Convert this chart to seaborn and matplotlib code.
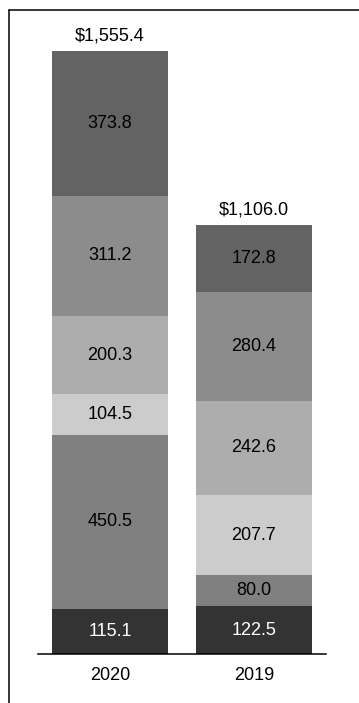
import matplotlib
matplotlib.use("Agg")
import matplotlib.pyplot as plt
from matplotlib.lines import Line2D
import seaborn as sns
import pandas as pd

# Revenue components by year (stacked from bottom to top)
years = ["2020", "2019"]
seg_bottom = [115.1, 122.5]
seg_2 = [450.5, 80.0]
seg_3 = [104.5, 207.7]
seg_4 = [200.3, 242.6]
seg_5 = [311.2, 280.4]
seg_top = [373.8, 172.8]
totals = [1555.4, 1106.0]

segments = [seg_bottom, seg_2, seg_3, seg_4, seg_5, seg_top]
colors = ["#333333", "#808080", "#cccccc", "#adadad", "#8c8c8c", "#636363"]
text_colors = ["white", "black", "black", "black", "black", "black"]

sns.set_style("white")
plt.rcParams["font.family"] = ["Liberation Sans", "DejaVu Sans"]

W, H = 359, 703
fig = plt.figure(figsize=(W / 100, H / 100), dpi=100)
ax_left, ax_right, ax_base, ax_top = 38, 326, 654, 30
ax = fig.add_axes([ax_left / W, (H - ax_base) / H,
                   (ax_right - ax_left) / W, (ax_base - ax_top) / H])

px_per_unit = 0.388
ymax = (ax_base - ax_top) / px_per_unit

bottoms = [0.0] * len(years)
for vals, col, tcol in zip(segments, colors, text_colors):
    df = pd.DataFrame({"year": years, "value": vals})
    sns.barplot(data=df, x="year", y="value", order=years, color=col,
                width=0.8, bottom=bottoms, saturation=1, ax=ax,
                edgecolor="none", linewidth=0)
    for i, (v, b) in enumerate(zip(vals, bottoms)):
        ax.text(i, b + v / 2, f"{v:.1f}", ha="center", va="center",
                fontsize=13, color=tcol)
    bottoms = [b + v for b, v in zip(bottoms, vals)]

for i, t in enumerate(totals):
    ax.annotate(f"${t:,.1f}", (i, t), xytext=(0, 7.5),
                textcoords="offset points", ha="center", va="baseline",
                fontsize=13, color="black")

ax.set_xlim(-0.5, 1.5)
ax.set_ylim(0, ymax)
ax.set_xlabel("")
ax.set_ylabel("")
ax.set_yticks([])
ax.tick_params(axis="x", length=0, pad=9.5, labelsize=13, labelcolor="black")
for side in ["top", "right", "left"]:
    ax.spines[side].set_visible(False)
ax.spines["bottom"].set_color("black")
ax.spines["bottom"].set_linewidth(1.1)

# Frame rules along the top and left of the figure
y_rule = (H - 9.5) / H
x_rule = 8.5 / W
fig.add_artist(Line2D([x_rule, 1.0], [y_rule, y_rule], color="black",
                      linewidth=1.1, transform=fig.transFigure))
fig.add_artist(Line2D([x_rule, x_rule], [0.0, y_rule], color="black",
                      linewidth=1.1, transform=fig.transFigure))

fig.savefig("out.png", dpi=100, facecolor="white")
